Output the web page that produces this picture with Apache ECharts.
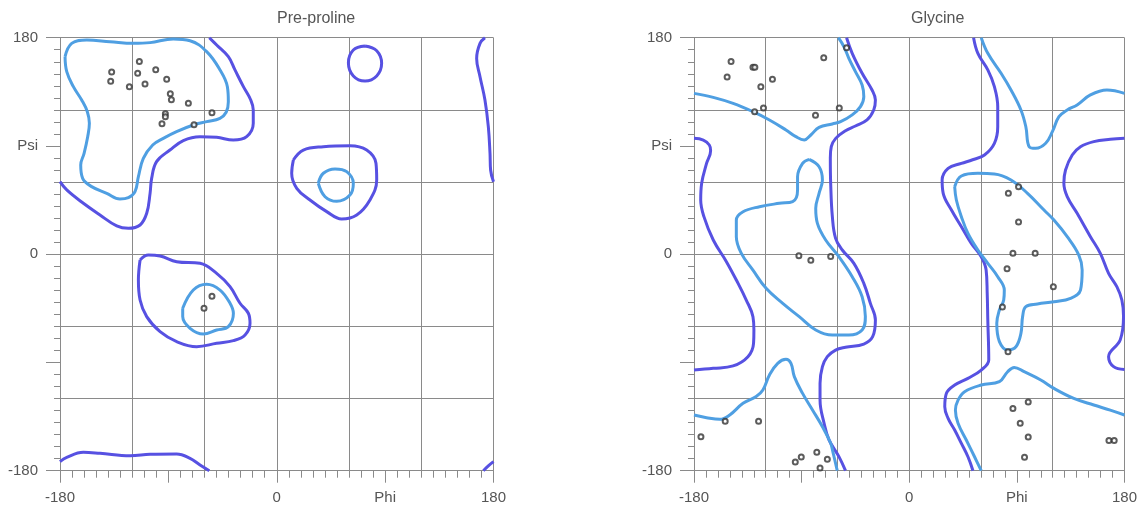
<!DOCTYPE html>
<html lang="en">
<head>
    <meta charset="UTF-8">
    <title>Ramachandran</title>
    <script src="https://cdn.jsdelivr.net/npm/echarts@6/dist/echarts.min.js"></script>
    <style>
        html, body { margin: 0; padding: 0; background: #fff; }
        #chart { width: 1140px; height: 507px; }
    </style>
</head>
<body>
<div id="chart"></div>
<script>
    var titles = ['Pre-proline', 'Glycine'];
    var tickValues = [-180, -90, 0, 90, 180];
    var xTickLabels = ['-180', '', '0', 'Phi', '180'];
    var yTickLabels = ['-180', '', '0', 'Psi', '180'];

    // Pre-proline contours, [phi, psi]
    var preBetaInner = [[-175.8,164.2],[-170.3,175.3],[-157.8,178.1],[-138.5,176.7],[-119.1,175.3],[-105.2,175.9],[-85.9,178.9],[-72,177.5],[-58.2,168.4],[-47.1,153.2],[-41,139.3],[-40.2,126.8],[-42,118],[-47.2,113],[-58.2,110.2],[-69.3,107.4],[-83.2,101.9],[-94.2,96.3],[-103,90.8],[-110.8,79.7],[-114.9,64.5],[-117.7,52],[-123.2,47],[-130.2,45.9],[-141.2,50.6],[-153.7,56.2],[-161.2,63.1],[-162.8,74.2],[-160,83.9],[-157,97.7],[-155.6,108.8],[-157.3,118.5],[-162,128.2],[-168.9,139.3],[-174.4,151.8],[-175.8,164.2]];
    var preBetaOuter = [[-56,180],[-49.9,173.9],[-40.2,164.2],[-34.7,153.2],[-27.7,139.3],[-21.6,128.2],[-19.5,119.9],[-19.5,108.8],[-25,97.7],[-36.1,94.9],[-49.9,97.2],[-63.8,97.7],[-77.6,94.5],[-88.7,86.6],[-99.8,77],[-103.9,63],[-105.2,50.6],[-108,34],[-113.5,24.3],[-123.2,21.5],[-132.9,23.5],[-146.8,32.6],[-160.6,42.3],[-174.4,53.4],[-180,60.3]];
    var preTopCircle = [[73.3,173.1],[83,169.2],[87.1,158.7],[83,148.2],[73.3,144],[63.6,148.2],[59.5,159.2],[63.6,169.8],[73.3,173.1]];
    var preRightEdge = [[172.9,180],[168.8,175.3],[166,162.8],[168.8,147.6],[172.9,128.2],[175.7,106],[177.1,83.9],[177.6,70],[180,60.3]];
    var preLeftAlphaOuter = [[13.8,78.3],[22.1,86.6],[38.7,89.4],[60.8,90.2],[74.7,86.6],[82.4,75.6],[83,61.7],[77.4,45.1],[66.4,32.6],[53.9,29.3],[41.5,35.4],[27.6,45.1],[16.6,54.8],[12.4,67.3],[13.8,78.3]];
    var preLeftAlphaInner = [[34.5,59],[38.7,67.3],[48.4,70.9],[58.1,68.6],[63.6,59],[60.8,49.2],[49.8,44],[40.1,47.8],[34.5,59]];
    var preAlphaOuter = [[-113.5,-4.8],[-106.6,-0.7],[-96.9,-1.5],[-83.1,-6.2],[-63.7,-7.6],[-49.9,-15.9],[-38.8,-27],[-30.5,-40.8],[-23.6,-49.1],[-22.2,-57.5],[-26.3,-67.2],[-36,-71.9],[-49.9,-74.1],[-66.5,-76.9],[-83.1,-72.7],[-96.9,-64.4],[-108,-51.9],[-113.5,-38.1],[-114.9,-21.4],[-113.5,-4.8]];
    var preAlphaInner = [[-78.1,-45],[-69.3,-29.8],[-58.2,-25],[-47.1,-29.8],[-38.8,-40.8],[-36,-49.1],[-40.2,-60.2],[-49.9,-63],[-61,-66.3],[-72,-61.6],[-78.1,-51.9],[-78.1,-45]];
    var preBottom = [[-180,-172.5],[-174.4,-168.9],[-160.6,-164.7],[-146.8,-165.5],[-121.8,-167.5],[-105.2,-166.4],[-83.1,-166.1],[-72,-169.7],[-63.7,-175.2],[-56,-180]];
    var preBottomRight = [[171.6,-180],[175.7,-176],[180,-172.5]];
    var prePoints = [[-137.1,151.5],[-137.9,143.7],[-114.1,160.3],[-115.5,150.4],[-122.4,139.3],[-109.4,141.5],[-100.5,153.4],[-91.4,145.4],[-88.4,133.5],[-87.5,128.5],[-73.4,125.4],[-53.8,117.7],[-92.5,116.8],[-92.5,114.3],[-95.3,108.5],[-68.7,107.7],[-53.8,-35],[-60.4,-45]];

    // Glycine contours, [phi, psi]
    var glyTopLeftInner = [[-180,133.7],[-163.9,130.4],[-147.3,125.4],[-130.7,118.5],[-116.9,111.6],[-103.1,103.3],[-94.8,97.7],[-87.8,95],[-82.3,99.1],[-75.4,105.5],[-64.3,108.3],[-57.4,110.2],[-47.7,115.8],[-40.8,122.7],[-38,131],[-39.4,140.7],[-45,151.8],[-50.5,162.8],[-54.6,172.5],[-59.3,180]];
    var glyLeftOuter = [[-52.4,180],[-47.7,167],[-39.4,150.4],[-31.1,136.5],[-28.3,128.2],[-29.7,119.9],[-35.3,111.6],[-45,106.6],[-53.3,102.7],[-61.5,96.3],[-65.2,89.4],[-66,80],[-65.7,58.9],[-64.3,31.2],[-61.6,13.2],[-56,3.5],[-46.3,-7.6],[-38,-24.2],[-32.5,-40.9],[-28.3,-54.7],[-30.6,-68.6],[-38,-74.7],[-53.3,-77.4],[-61.6,-79.7],[-68.5,-85.2],[-72.6,-93.5],[-74.6,-107.3],[-74.6,-121.2],[-71.2,-140.6],[-67.1,-154.4],[-58.8,-168.3],[-53.3,-180]];
    var glyCentreInner = [[-83.7,78.8],[-75.4,72.7],[-72.6,61.7],[-75.4,50.6],[-78.2,38.1],[-76.8,25.6],[-69.9,11.8],[-58.8,-2.1],[-47.7,-18.7],[-39.4,-35.3],[-36.7,-51.9],[-39.4,-63],[-50.5,-67.2],[-64.3,-67.2],[-78.2,-63],[-92,-51.9],[-105.8,-40.9],[-119.7,-28.4],[-130.7,-13.2],[-140.4,0.7],[-144.6,14.6],[-144.6,28.4],[-139,35.3],[-125.2,39.5],[-108.6,42.3],[-97.5,43.7],[-93.4,53.4],[-93.4,64.4],[-89.2,75.5],[-83.7,78.8]];
    var glyFarLeftOuter = [[-180,96.3],[-172.2,94.9],[-167.2,90.8],[-166.1,86.1],[-169.5,75.5],[-173.6,58.9],[-174.4,45],[-171.7,31.2],[-163.9,11.8],[-152.9,-6.2],[-144.6,-21.5],[-136.3,-38.1],[-130.7,-52],[-129.9,-63],[-130.2,-74.1],[-134.9,-85.2],[-147.3,-92.9],[-163.9,-94.9],[-180,-96.3]];
    var glyBottomLeftInner = [[-180,-133.7],[-169.5,-135.9],[-158.4,-137.3],[-150.1,-133.7],[-139,-124],[-128,-118.4],[-122.4,-112.9],[-116.9,-100.4],[-110,-90.7],[-103.1,-87.4],[-98.9,-90.7],[-96.1,-101.8],[-89.2,-115.7],[-80.9,-129.5],[-72.6,-143.4],[-65.7,-157.2],[-63.7,-165],[-60.2,-180]];
    var glyMidOuter = [[53.8,180],[57.4,167],[65.7,153.2],[71.2,139.3],[74,122.7],[74,106],[71.2,92.2],[62.9,82.5],[53,78.5],[43.6,75.5],[32.5,71.4],[27.5,61.7],[28.4,50.6],[35.3,36.7],[43.6,22.9],[51.9,9],[60.2,-2.1],[64.3,-13.1],[65.2,-32.5],[65.7,-54.7],[66.5,-88],[60.2,-96.3],[49.1,-103.2],[38,-108.8],[31.1,-115.7],[29.7,-126.8],[32.5,-136.5],[38,-146.2],[43.6,-157.3],[49.1,-168.4],[53.3,-180]];
    var glyTopRightInner = [[60.2,180],[65.7,167],[76.8,150.4],[85.1,136.5],[93.4,119.9],[97.5,106],[100.3,89.4],[105.8,88],[114.1,92.2],[119.7,101.9],[125.2,114.3],[132.1,119.9],[140.4,124.1],[151.5,132.4],[165.3,136.5],[180,133.7]];
    var glyRightOuter = [[180,96.3],[168.1,95.5],[154.3,93.6],[143.2,89.4],[136.3,82.5],[130.7,70],[129.3,58.9],[132.1,47.8],[140.4,34],[151.5,14.6],[159.8,0.7],[166.7,-15.9],[173.6,-27],[177.8,-38.1],[179.2,-51.9],[176.4,-71.3],[166.7,-85.2],[170.9,-93.5],[180,-95.8]];
    var glyRightInner = [[38,56.1],[43.6,65],[57.4,67.2],[71.2,66.7],[85.1,61.7],[98.9,50.6],[112.7,36.7],[121,28.4],[132.1,14.6],[141.8,-0.7],[144.6,-13.1],[143.2,-29.8],[134.9,-36.7],[121,-39.5],[107.2,-41.4],[97.5,-43.6],[94.8,-51.9],[93.4,-65.8],[89.2,-76.9],[82.3,-79.6],[75.4,-72.7],[73.2,-57.5],[75.4,-46.4],[79,-38.1],[79.5,-29.8],[74,-18.7],[65.7,-7.6],[57.4,3.5],[49.1,17.3],[43.6,31.2],[39.4,45.1],[38,56.1]];
    var glyBottomRightInner = [[60.2,-180],[54.6,-168.4],[47.7,-154.5],[40.8,-140.6],[38.6,-129.6],[40.8,-121.3],[46.3,-114.3],[60.2,-108.8],[75.4,-106],[82.3,-97.7],[87.8,-94.1],[96.1,-97.7],[110,-104.6],[121,-111.6],[137.6,-119.9],[154.3,-125.4],[168.1,-129.6],[180,-133.7]];
    var glyPoints = [[-149,160.3],[-152.3,147.3],[-130.7,155.4],[-129.1,155.4],[-124.1,139.3],[-114.4,145.4],[-121.9,121.6],[-129.3,118.5],[-71.5,163.4],[-78.4,115.5],[-58.5,121.6],[-52.4,171.7],[-92.3,-1.2],[-82.3,-5.1],[-65.7,-2],[-153.9,-138.9],[-126,-138.9],[-174.2,-151.7],[-77.3,-164.7],[-90.3,-168.6],[-95.3,-172.7],[-68.5,-170.5],[-74.6,-177.7],[91.4,56.1],[82.9,50.6],[91.4,26.8],[86.7,0.7],[105.3,0.7],[81.8,-12],[120.5,-27],[77.9,-43.9],[82.6,-81],[99.5,-122.9],[86.7,-128.2],[92.8,-140.6],[99.5,-152],[96.4,-168.9],[167,-154.8],[171.4,-154.8]];

    var DARK = '#5751e2';
    var LIGHT = '#4f9fe2';
    var GRIDC = '#8a8a8a';
    var FONT = 'Liberation Sans, Arial, sans-serif';

    var myChart = echarts.init(document.getElementById('chart'));

    function tickLabel(labels) {
        return function (v) {
            var i = tickValues.indexOf(v);
            return i < 0 ? '' : labels[i];
        };
    }

    function xTicks(g) {
        return {
            type: 'value', gridIndex: g, min: -180, max: 180, interval: 90, position: 'bottom',
            axisLine: { show: true, onZero: false, lineStyle: { color: GRIDC } },
            axisTick: { show: true, length: 12, lineStyle: { color: GRIDC } },
            minorTick: { show: true, splitNumber: 9, length: 7, lineStyle: { color: GRIDC } },
            splitLine: { show: false },
            axisLabel: { margin: 20, fontSize: 15, color: '#555', fontFamily: FONT, showMinLabel: true, showMaxLabel: true, formatter: tickLabel(xTickLabels) }
        };
    }
    function yTicks(g) {
        return {
            type: 'value', gridIndex: g, min: -180, max: 180, interval: 90, position: 'left',
            axisLine: { show: true, onZero: false, lineStyle: { color: GRIDC } },
            axisTick: { show: true, length: 14, lineStyle: { color: GRIDC } },
            minorTick: { show: true, splitNumber: 9, length: 6, lineStyle: { color: GRIDC } },
            splitLine: { show: false },
            axisLabel: { margin: 22, fontSize: 15, color: '#555', fontFamily: FONT, showMinLabel: true, showMaxLabel: true, formatter: tickLabel(yTickLabels) }
        };
    }
    function gridLines(g, pos) {
        return {
            type: 'value', gridIndex: g, min: -180, max: 180, interval: 60, position: pos,
            axisLine: { show: false }, axisTick: { show: false }, axisLabel: { show: false },
            splitLine: { show: true, lineStyle: { color: GRIDC, width: 1 } }
        };
    }

    var series = [];
    function contour(data, color, g) {
        series.push({
            type: 'line', xAxisIndex: g * 2, yAxisIndex: g * 2, data: data,
            smooth: 0.4, showSymbol: false, silent: true, z: 2,
            lineStyle: { color: color, width: 3 }
        });
    }
    function points(data, g) {
        series.push({
            type: 'scatter', xAxisIndex: g * 2, yAxisIndex: g * 2, data: data,
            symbol: 'emptyCircle', symbolSize: 5, silent: true, z: 3,
            itemStyle: { color: '#333', borderWidth: 1 }
        });
    }

    contour(preBetaOuter, DARK, 0);
    contour(preTopCircle, DARK, 0);
    contour(preRightEdge, DARK, 0);
    contour(preLeftAlphaOuter, DARK, 0);
    contour(preAlphaOuter, DARK, 0);
    contour(preBottom, DARK, 0);
    contour(preBottomRight, DARK, 0);
    contour(preBetaInner, LIGHT, 0);
    contour(preLeftAlphaInner, LIGHT, 0);
    contour(preAlphaInner, LIGHT, 0);
    points(prePoints, 0);

    contour(glyLeftOuter, DARK, 1);
    contour(glyFarLeftOuter, DARK, 1);
    contour(glyMidOuter, DARK, 1);
    contour(glyRightOuter, DARK, 1);
    contour(glyTopLeftInner, LIGHT, 1);
    contour(glyCentreInner, LIGHT, 1);
    contour(glyBottomLeftInner, LIGHT, 1);
    contour(glyTopRightInner, LIGHT, 1);
    contour(glyRightInner, LIGHT, 1);
    contour(glyBottomRightInner, LIGHT, 1);
    points(glyPoints, 1);

    var option = {
        animation: false,
        backgroundColor: '#fff',
        title: [
            { text: titles[0], left: 277, top: 11, padding: 0, textStyle: { fontSize: 16, fontWeight: 'normal', color: '#555', fontFamily: FONT } },
            { text: titles[1], left: 911, top: 11, padding: 0, textStyle: { fontSize: 16, fontWeight: 'normal', color: '#555', fontFamily: FONT } }
        ],
        grid: [
            { left: 60, top: 37.7, width: 433.5, height: 433 },
            { left: 694, top: 37.7, width: 433.7, height: 433 }
        ],
        xAxis: [xTicks(0), gridLines(0, 'top'), xTicks(1), gridLines(1, 'top')],
        yAxis: [yTicks(0), gridLines(0, 'right'), yTicks(1), gridLines(1, 'right')],
        series: series
    };
    myChart.setOption(option);
</script>
</body>
</html>
